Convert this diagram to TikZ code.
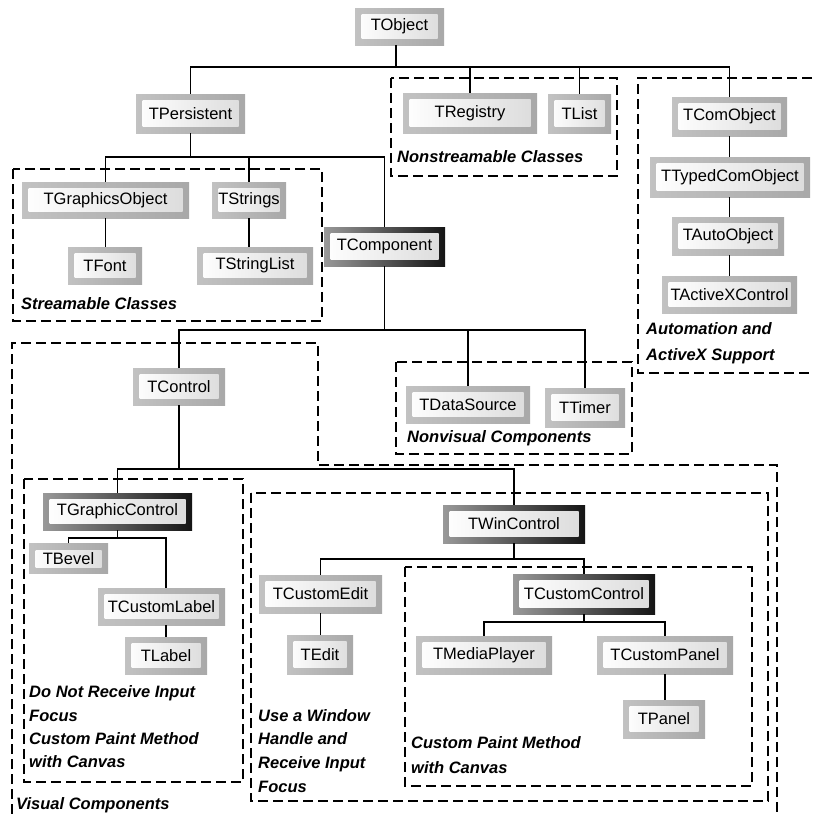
\documentclass[tikz,border=0pt]{standalone}
\usepackage{fontspec}
\setmainfont{Liberation Sans}
\begin{document}
\begin{tikzpicture}[x=1pt,y=-1pt,
  box/.style={inner sep=0pt, font=\fontsize{16.5}{18}\selectfont, text=black},
  innerwhite/.style={path picture={\shade[left color=white, right color=black!14]
      ([shift={(6.5pt,-6.5pt)}]path picture bounding box.north west) rectangle
      ([shift={(-6.5pt,6.5pt)}]path picture bounding box.south east);}},
  lnode/.style={box, left color=black!24, right color=black!34, innerwhite},
  dnode/.style={box, left color=black!40, right color=black!92, innerwhite},
  conn/.style={line width=1.8pt, black},
  grp/.style={line width=1.6pt, dash pattern=on 10pt off 5pt, black},
  lbl/.style={anchor=west, inner sep=0pt, text height=12pt, text depth=3.5pt,
      font=\fontsize{16.5}{18}\selectfont\bfseries\itshape}]
\useasboundingbox (0,0) rectangle (812,814);
\fill[white] (0,0) rectangle (812,814);

% dashed groups
\draw[grp] (391,78) rectangle (617,176);
\draw[grp] (812,78) -- (638,78) -- (638,373) -- (812,373);
\draw[grp] (13,169) rectangle (322,321);
\draw[grp] (396,362) rectangle (632,454);
\draw[grp] (12,814) -- (12,343) -- (318,343) -- (318,465) -- (777,465) -- (777,814);
\draw[grp] (24,479) rectangle (243,782);
\draw[grp] (251,493) rectangle (768,801);
\draw[grp] (405,567) rectangle (752,786);

% nodes
\node[lnode,minimum width=89pt,minimum height=37pt] (TObject) at (399.5,26.5) {TObject};
\node[lnode,minimum width=109pt,minimum height=39pt] (TPersistent) at (190.5,113.5) {TPersistent};
\node[lnode,minimum width=134pt,minimum height=40pt] (TRegistry) at (470,113) {TRegistry};
\node[lnode,minimum width=63pt,minimum height=39pt] (TList) at (579.5,113.5) {TList};
\node[lnode,minimum width=115pt,minimum height=39pt] (TComObject) at (729.5,116.5) {TComObject};
\node[lnode,minimum width=160pt,minimum height=40pt] (TTypedComObject) at (730,177) {TTypedComObject};
\node[lnode,minimum width=112pt,minimum height=38pt] (TAutoObject) at (728,236) {TAutoObject};
\node[lnode,minimum width=135pt,minimum height=37pt] (TActiveXControl) at (729.5,294.5) {TActiveXControl};
\node[lnode,minimum width=167pt,minimum height=36pt] (TGraphicsObject) at (105.5,200) {TGraphicsObject};
\node[lnode,minimum width=74pt,minimum height=36pt] (TStrings) at (249,200) {TStrings};
\node[lnode,minimum width=74pt,minimum height=37pt] (TFont) at (105,265.5) {TFont};
\node[lnode,minimum width=116pt,minimum height=37pt] (TStringList) at (255,265.5) {TStringList};
\node[dnode,minimum width=121pt,minimum height=39pt] (TComponent) at (384.5,246.5) {TComponent};
\node[lnode,minimum width=92pt,minimum height=37pt] (TControl) at (179,386.5) {TControl};
\node[lnode,minimum width=124pt,minimum height=37pt] (TDataSource) at (468,404.5) {TDataSource};
\node[lnode,minimum width=80pt,minimum height=39pt] (TTimer) at (585,407.5) {TTimer};
\node[dnode,minimum width=149pt,minimum height=37pt] (TGraphicControl) at (117.5,511.5) {TGraphicControl};
\node[lnode,minimum width=79pt,minimum height=30pt] (TBevel) at (68.5,558.5) {TBevel};
\node[lnode,minimum width=127pt,minimum height=37pt] (TCustomLabel) at (161.5,606.5) {TCustomLabel};
\node[lnode,minimum width=82pt,minimum height=37pt] (TLabel) at (166,655.5) {TLabel};
\node[dnode,minimum width=142pt,minimum height=38pt] (TWinControl) at (514,524) {TWinControl};
\node[lnode,minimum width=123pt,minimum height=38pt] (TCustomEdit) at (320.5,594) {TCustomEdit};
\node[lnode,minimum width=66pt,minimum height=39pt] (TEdit) at (320,654.5) {TEdit};
\node[dnode,minimum width=142pt,minimum height=40pt] (TCustomControl) at (584,594) {TCustomControl};
\node[lnode,minimum width=136pt,minimum height=38pt] (TMediaPlayer) at (484,655) {TMediaPlayer};
\node[lnode,minimum width=136pt,minimum height=38pt] (TCustomPanel) at (665,655) {TCustomPanel};
\node[lnode,minimum width=82pt,minimum height=38pt] (TPanel) at (664,719) {TPanel};

% connectors
\coordinate (b0) at (396,67);
\draw[conn] (TObject.south -| b0) -- (b0);
\draw[conn] (TPersistent.north) |- (b0) -| (TComObject.north);
\draw[conn] (TRegistry.north) -- (TRegistry.north |- b0);
\draw[conn] (TList.north) -- (TList.north |- b0);
\draw[conn] (TComObject.south) -- (TComObject.south |- TTypedComObject.north);
\draw[conn] (TTypedComObject.south -| TComObject.south) -- (TComObject.south |- TAutoObject.north);
\draw[conn] (TAutoObject.south -| TComObject.south) -- (TComObject.south |- TActiveXControl.north);

\coordinate (b1) at (191,157);
\draw[conn] (TPersistent.south) -- (TPersistent.south |- b1);
\draw[conn] (TGraphicsObject.north) |- (b1) -| (TComponent.north);
\draw[conn] (TStrings.north) -- (TStrings.north |- b1);
\draw[conn] (TGraphicsObject.south) -- (TGraphicsObject.south |- TFont.north);
\draw[conn] (TStrings.south) -- (TStrings.south |- TStringList.north);

\coordinate (b2) at (382,330);
\draw[conn] (TComponent.south) -- (TComponent.south |- b2);
\draw[conn] (TControl.north) |- (b2) -| (TTimer.north);
\draw[conn] (TDataSource.north) -- (TDataSource.north |- b2);

\coordinate (b3) at (182,469);
\draw[conn] (TControl.south) -- (TControl.south |- b3);
\draw[conn] (TGraphicControl.north) |- (b3) -| (TWinControl.north);

\coordinate (b4) at (113,538);
\draw[conn] (TGraphicControl.south) -- (TGraphicControl.south |- b4);
\draw[conn] (TBevel.north) |- (b4) -| (TLabel.north |- TCustomLabel.north);
\draw[conn] (TCustomLabel.south -| TLabel.north) -- (TLabel.north);

\coordinate (b5) at (514,559);
\draw[conn] (TWinControl.south) -- (TWinControl.south |- b5);
\draw[conn] (TCustomEdit.north) |- (b5) -| (TCustomControl.north);
\draw[conn] (TCustomEdit.south) -- (TCustomEdit.south |- TEdit.north);

\coordinate (b6) at (587,622);
\draw[conn] (TCustomControl.south) -- (TCustomControl.south |- b6);
\draw[conn] (TMediaPlayer.north) |- (b6) -| (TCustomPanel.north);
\draw[conn] (TCustomPanel.south) -- (TCustomPanel.south |- TPanel.north);

% labels
\node[lbl] (L1) at (397,158) {Nonstreamable Classes};
\node[lbl] (L2) at (21,305) {Streamable Classes};
\node[lbl] (L3a) at (646,330) {Automation and};
\node[lbl] (L3b) at (646,356) {ActiveX Support};
\node[lbl] (L4) at (407,438) {Nonvisual Components};
\node[lbl] (L5) at (16,805) {Visual Components};
\node[lbl] (L6a) at (29,693) {Do Not Receive Input};
\node[lbl] (L6b) at (29,717) {Focus};
\node[lbl] (L6c) at (29,740) {Custom Paint Method};
\node[lbl] (L6d) at (29,763) {with Canvas};
\node[lbl] (L7a) at (258,717) {Use a Window};
\node[lbl] (L7b) at (258,740) {Handle and};
\node[lbl] (L7c) at (258,764) {Receive Input};
\node[lbl] (L7d) at (258,788) {Focus};
\node[lbl] (L8a) at (411,744) {Custom Paint Method};
\node[lbl] (L8b) at (411,769) {with Canvas};
\end{tikzpicture}
\end{document}
